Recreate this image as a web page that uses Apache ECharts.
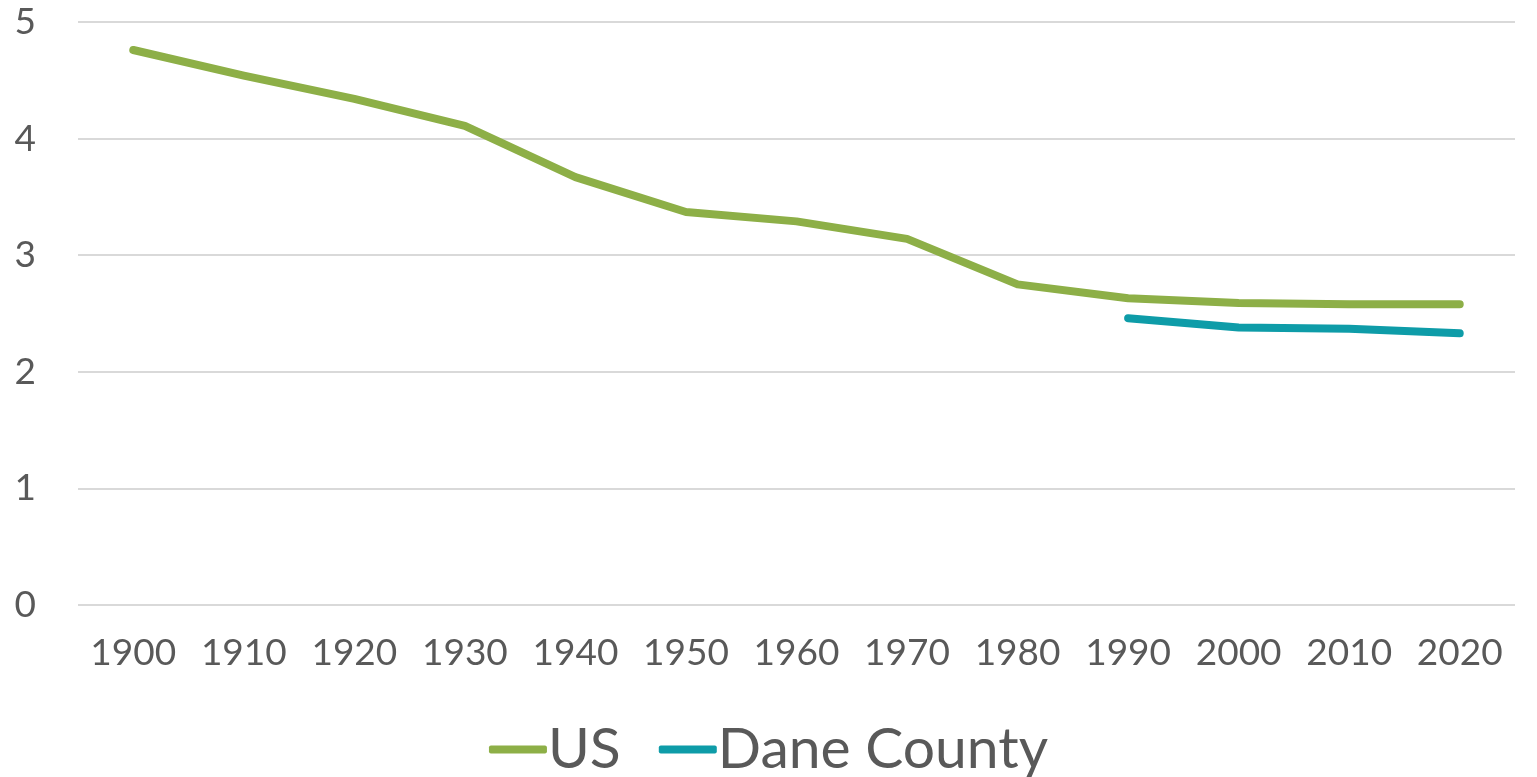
<!DOCTYPE html>
<html><head><meta charset="utf-8">
<script src="https://cdn.jsdelivr.net/npm/echarts@6/dist/echarts.min.js"></script>
<style>html,body{margin:0;padding:0;background:#fff}#c{width:1537px;height:777px}</style>
</head><body><div id="c"></div>
<script>
var years = ['1900','1910','1920','1930','1940','1950','1960','1970','1980','1990','2000','2010','2020'];
var usValues = [4.76, 4.54, 4.34, 4.11, 3.67, 3.37, 3.29, 3.14, 2.75, 2.63, 2.59, 2.58, 2.58];
var daneValues = [null, null, null, null, null, null, null, null, null, 2.46, 2.38, 2.37, 2.33];
var yTicks = {min: 0, max: 5, interval: 1};

var font = 'Lato, "Open Sans", sans-serif';
var chart = echarts.init(document.getElementById('c'));
chart.setOption({
  animation: false,
  grid: {left: 78, right: 22, top: 22, bottom: 172},
  legend: {
    data: ['US', 'Dane County'],
    left: 'center', top: 716,
    icon: 'roundRect', itemWidth: 58, itemHeight: 8, itemGap: 38,
    textStyle: {fontFamily: font, fontSize: 57, color: '#595959', padding: [0,0,0,-4]}
  },
  xAxis: {
    type: 'category', data: years, boundaryGap: true,
    axisLine: {show: false}, axisTick: {show: false},
    axisLabel: {interval: 0, fontFamily: font, fontSize: 37, color: '#595959', margin: 30}
  },
  yAxis: {
    type: 'value', min: yTicks.min, max: yTicks.max, interval: yTicks.interval,
    axisLine: {show: false}, axisTick: {show: false},
    axisLabel: {fontFamily: font, fontSize: 37, color: '#595959', margin: 42, align: 'right'},
    splitLine: {lineStyle: {color: '#D9D9D9', width: 2}}
  },
  series: [
    {name: 'US', type: 'line', data: usValues, showSymbol: false, symbol: 'none',
     itemStyle: {color: '#8DAF47'},
     lineStyle: {color: '#8DAF47', width: 8, cap: 'round', join: 'round'}},
    {name: 'Dane County', type: 'line', data: daneValues, showSymbol: false, symbol: 'none',
     itemStyle: {color: '#0E9CA8'},
     lineStyle: {color: '#0E9CA8', width: 8, cap: 'round', join: 'round'}}
  ]
});
</script></body></html>
